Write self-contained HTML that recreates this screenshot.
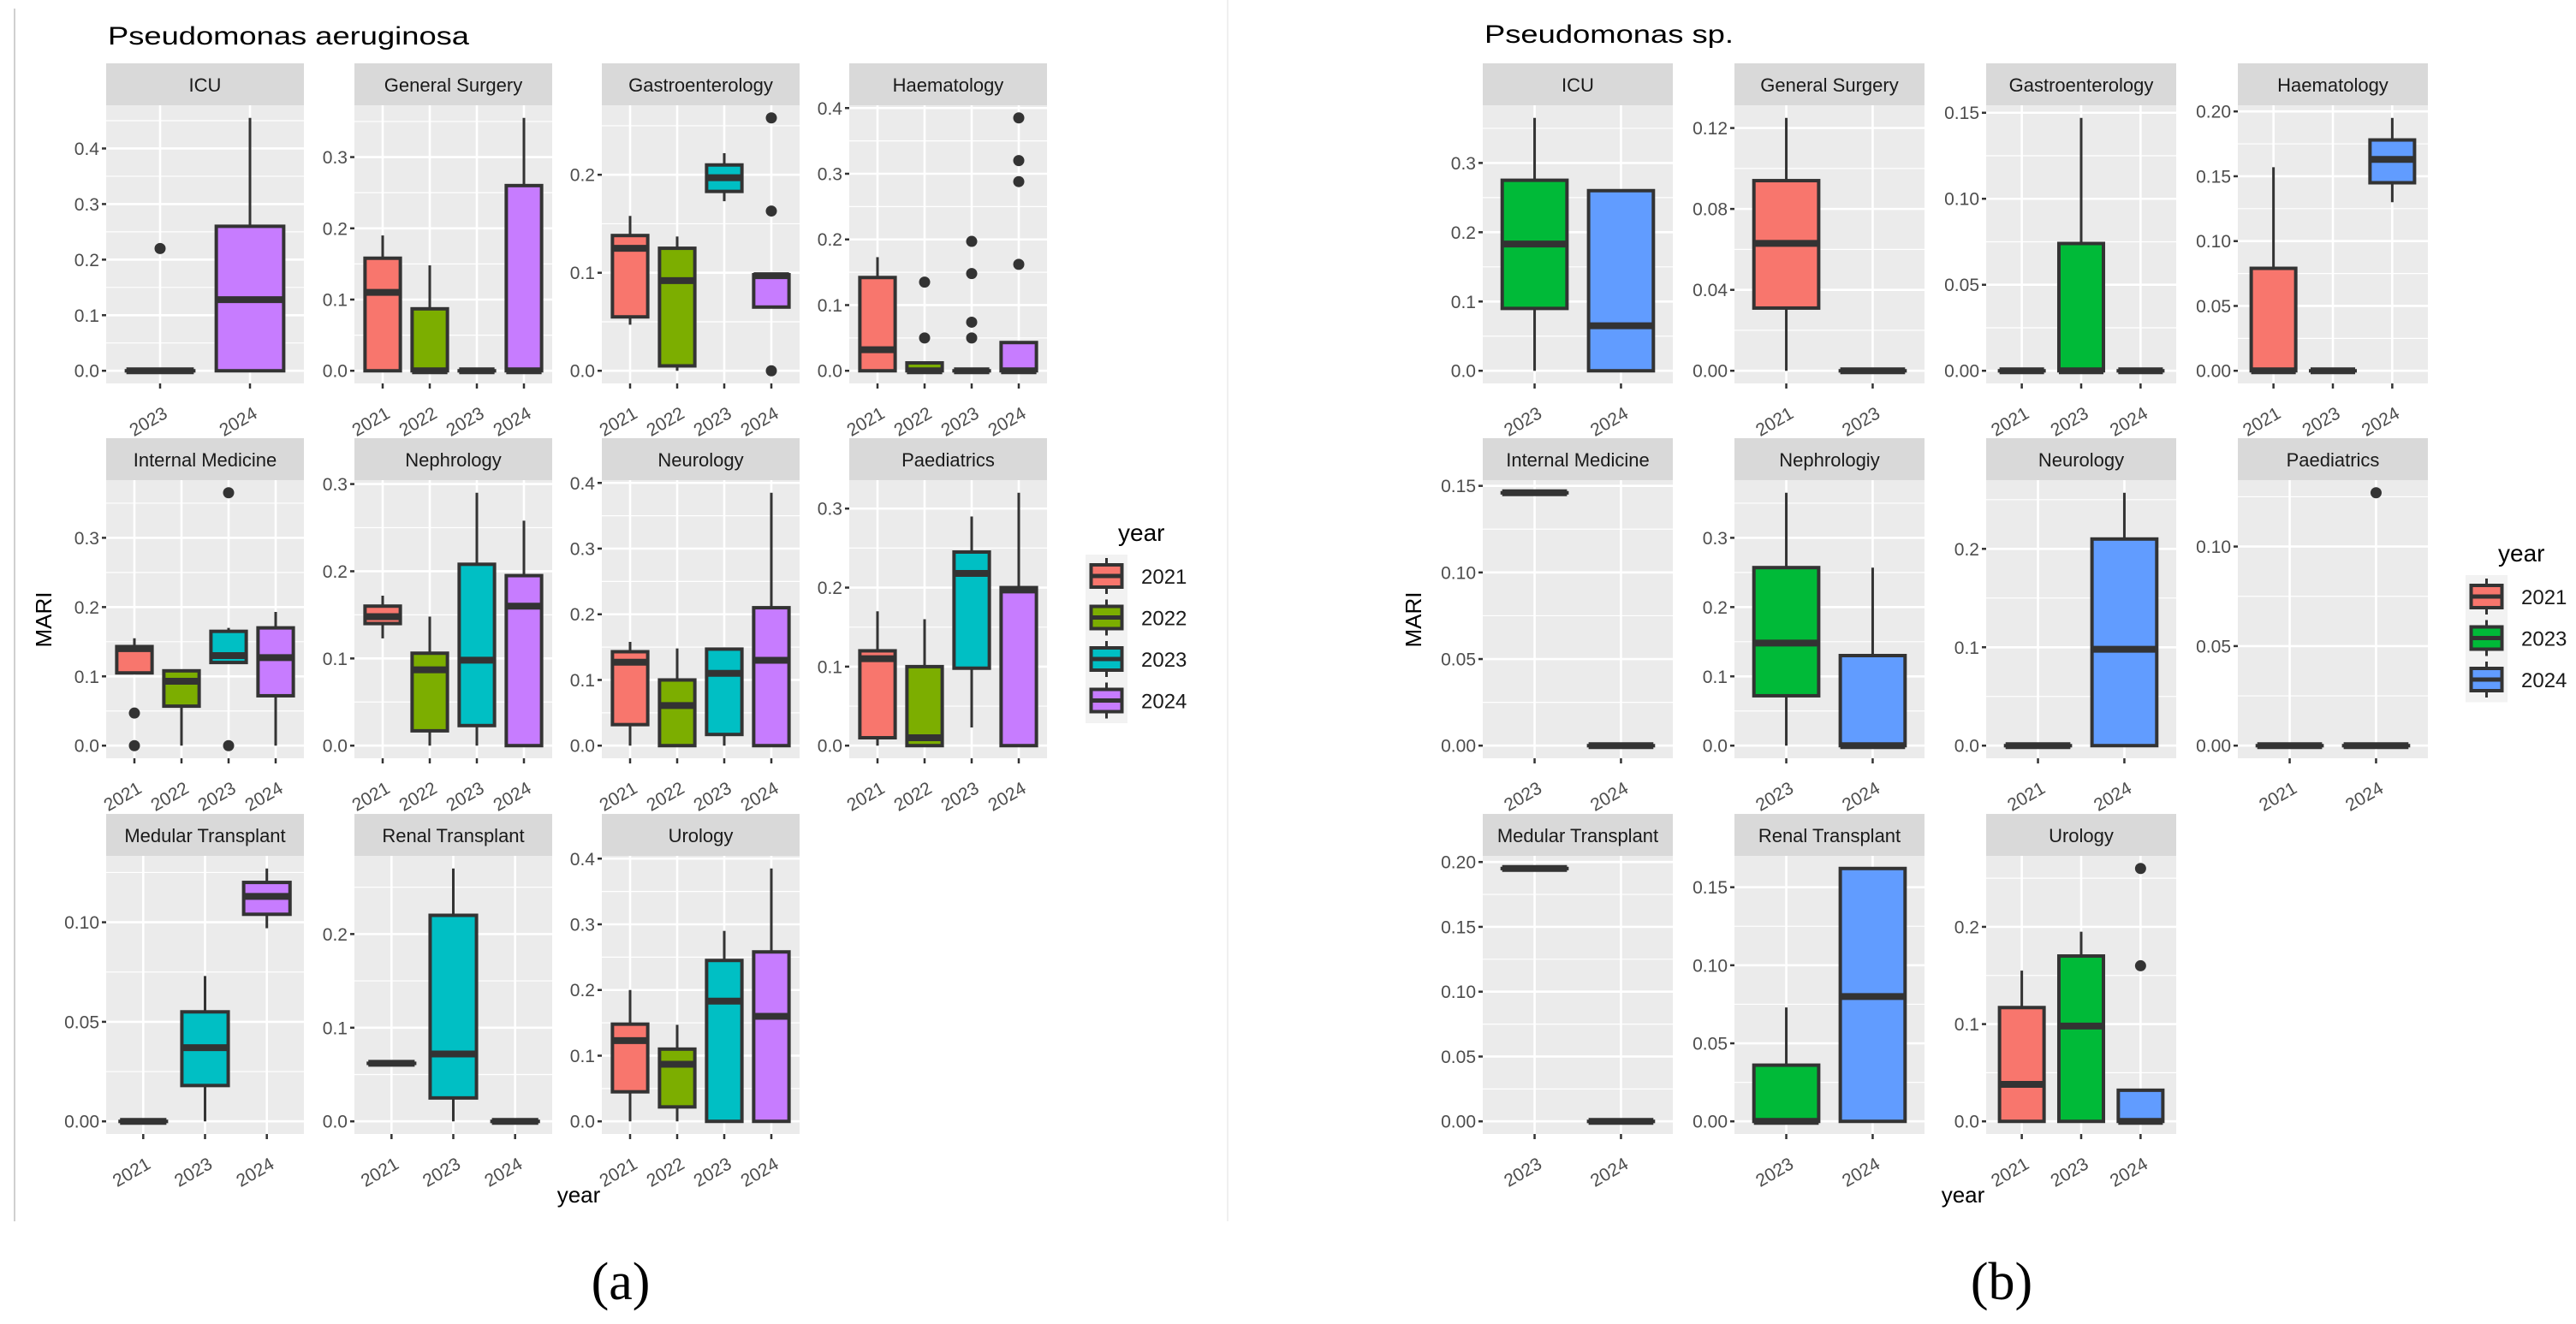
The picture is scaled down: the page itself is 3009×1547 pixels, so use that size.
<!DOCTYPE html>
<html><head><meta charset="utf-8"><title>MARI boxplots</title>
<style>
html,body{margin:0;padding:0;background:#fff;}
svg{display:block;font-family:"Liberation Sans",Arial,sans-serif;}
</style></head>
<body>
<svg id="fig" width="3009" height="1547" viewBox="0 0 3009 1547" xmlns="http://www.w3.org/2000/svg">
<rect x="0" y="0" width="3009" height="1547" fill="#fff"/>
<line x1="17" y1="10" x2="17" y2="1427" stroke="#d0d0d0" stroke-width="2"/>
<line x1="1434" y1="0" x2="1434" y2="1427" stroke="#f0f0f0" stroke-width="2"/>
<text x="126" y="52" font-size="30" textLength="422" lengthAdjust="spacingAndGlyphs" fill="#000">Pseudomonas aeruginosa</text>
<text x="1734" y="50" font-size="30" textLength="291" lengthAdjust="spacingAndGlyphs" fill="#000">Pseudomonas sp.</text>
<text x="725" y="1518" font-size="62" text-anchor="middle" font-family="Liberation Serif, serif">(a)</text>
<text x="2338" y="1518" font-size="62" text-anchor="middle" font-family="Liberation Serif, serif">(b)</text>
<g id="plots"></g>
</svg>
<script>
// ---------- Data: Pseudomonas aeruginosa (a) ----------
const panelsA = ["ICU","General Surgery","Gastroenterology","Haematology","Internal Medicine","Nephrology","Neurology","Paediatrics","Medular Transplant","Renal Transplant","Urology"];
const yearsA = [[2023,2024],[2021,2022,2023,2024],[2021,2022,2023,2024],[2021,2022,2023,2024],[2021,2022,2023,2024],[2021,2022,2023,2024],[2021,2022,2023,2024],[2021,2022,2023,2024],[2021,2023,2024],[2021,2023,2024],[2021,2022,2023,2024]];
const statsA = [
 [[0,0,0,0,0],[0,0,0.128,0.26,0.455]],
 [[0,0,0.11,0.158,0.19],[0,0,0,0.087,0.148],[0,0,0,0,0],[0,0,0,0.26,0.355]],
 [[0.047,0.055,0.125,0.138,0.158],[0,0.005,0.092,0.125,0.137],[0.173,0.183,0.197,0.21,0.222],[0.065,0.065,0.097,0.098,0.098]],
 [[0,0,0.032,0.142,0.173],[0,0,0,0.012,0.012],[0,0,0,0,0],[0,0,0,0.043,0.043]],
 [[0.105,0.105,0.14,0.143,0.155],[0,0.057,0.093,0.108,0.11],[0.12,0.12,0.13,0.165,0.17],[0,0.072,0.127,0.17,0.193]],
 [[0.123,0.14,0.148,0.16,0.172],[0,0.017,0.087,0.106,0.148],[0,0.023,0.098,0.208,0.29],[0,0,0.16,0.195,0.258]],
 [[0,0.032,0.127,0.143,0.158],[0,0,0.061,0.1,0.148],[0,0.017,0.11,0.147,0.147],[0,0,0.13,0.21,0.385]],
 [[0,0.01,0.11,0.12,0.17],[0,0,0.01,0.1,0.16],[0.023,0.098,0.218,0.245,0.29],[0,0,0.197,0.2,0.32]],
 [[0,0,0,0,0],[0,0.018,0.037,0.055,0.073],[0.097,0.104,0.113,0.12,0.127]],
 [[0.062,0.062,0.062,0.062,0.062],[0,0.025,0.072,0.22,0.27],[0,0,0,0,0]],
 [[0,0.045,0.123,0.148,0.2],[0,0.022,0.087,0.11,0.147],[0,0,0.183,0.245,0.29],[0,0,0.16,0.258,0.385]]
];
const outliersA = [
 [[0.22],[]],
 [[],[],[],[]],
 [[],[],[],[0.258,0.163,0]],
 [[],[0.135,0.05],[0.197,0.148,0.074,0.05],[0.385,0.32,0.288,0.162]],
 [[0.047,0],[],[0.365,0],[]],
 [[],[],[],[]],
 [[],[],[],[]],
 [[],[],[],[]],
 [[],[],[]],
 [[],[],[]],
 [[],[],[],[]]
];
const ticksA = [[0,0.1,0.2,0.3,0.4],[0,0.1,0.2,0.3],[0,0.1,0.2],[0,0.1,0.2,0.3,0.4],[0,0.1,0.2,0.3],[0,0.1,0.2,0.3],[0,0.1,0.2,0.3,0.4],[0,0.1,0.2,0.3],[0,0.05,0.1],[0,0.1,0.2],[0,0.1,0.2,0.3,0.4]];
const tickLabelsA = [["0.0","0.1","0.2","0.3","0.4"],["0.0","0.1","0.2","0.3"],["0.0","0.1","0.2"],["0.0","0.1","0.2","0.3","0.4"],["0.0","0.1","0.2","0.3"],["0.0","0.1","0.2","0.3"],["0.0","0.1","0.2","0.3","0.4"],["0.0","0.1","0.2","0.3"],["0.00","0.05","0.10"],["0.0","0.1","0.2"],["0.0","0.1","0.2","0.3","0.4"]];
const legendYearsA = [2021,2022,2023,2024];
const colorsA = ["#F8766D","#7CAE00","#00BFC4","#C77CFF"];

// ---------- Data: Pseudomonas sp. (b) ----------
const panelsB = ["ICU","General Surgery","Gastroenterology","Haematology","Internal Medicine","Nephrologiy","Neurology","Paediatrics","Medular Transplant","Renal Transplant","Urology"];
const yearsB = [[2023,2024],[2021,2023],[2021,2023,2024],[2021,2023,2024],[2023,2024],[2023,2024],[2021,2024],[2021,2024],[2023,2024],[2023,2024],[2021,2023,2024]];
const statsB = [
 [[0,0.09,0.183,0.275,0.365],[0,0,0.065,0.26,0.26]],
 [[0,0.031,0.063,0.094,0.125],[0,0,0,0,0]],
 [[0,0,0,0,0],[0,0,0,0.074,0.147],[0,0,0,0,0]],
 [[0,0,0,0.079,0.157],[0,0,0,0,0],[0.13,0.145,0.163,0.178,0.195]],
 [[0.146,0.146,0.146,0.146,0.146],[0,0,0,0,0]],
 [[0,0.072,0.148,0.257,0.365],[0,0,0,0.13,0.257]],
 [[0,0,0,0,0],[0,0,0.098,0.21,0.257]],
 [[0,0,0,0,0],[0,0,0,0,0]],
 [[0.195,0.195,0.195,0.195,0.195],[0,0,0,0,0]],
 [[0,0,0,0.036,0.073],[0,0,0.08,0.162,0.162]],
 [[0,0,0.038,0.117,0.155],[0,0,0.098,0.17,0.195],[0,0,0,0.032,0.032]]
];
const outliersB = [
 [[],[]],[[],[]],[[],[],[]],[[],[],[]],[[],[]],[[],[]],[[],[]],[[],[0.127]],[[],[]],[[],[]],[[],[],[0.26,0.16]]
];
const ticksB = [[0,0.1,0.2,0.3],[0,0.04,0.08,0.12],[0,0.05,0.1,0.15],[0,0.05,0.1,0.15,0.2],[0,0.05,0.1,0.15],[0,0.1,0.2,0.3],[0,0.1,0.2],[0,0.05,0.1],[0,0.05,0.1,0.15,0.2],[0,0.05,0.1,0.15],[0,0.1,0.2]];
const tickLabelsB = [["0.0","0.1","0.2","0.3"],["0.00","0.04","0.08","0.12"],["0.00","0.05","0.10","0.15"],["0.00","0.05","0.10","0.15","0.20"],["0.00","0.05","0.10","0.15"],["0.0","0.1","0.2","0.3"],["0.0","0.1","0.2"],["0.00","0.05","0.10"],["0.00","0.05","0.10","0.15","0.20"],["0.00","0.05","0.10","0.15"],["0.0","0.1","0.2"]];
const legendYearsB = [2021,2023,2024];
const colorsB = ["#F8766D","#00BA38","#619CFF"];

const NS = "http://www.w3.org/2000/svg";
const root = document.getElementById("plots");
function mk(tag, attrs, parent) {
  const e = document.createElementNS(NS, tag);
  for (const k in attrs) e.setAttribute(k, attrs[k]);
  (parent || root).appendChild(e);
  return e;
}

function drawSide(cfg) {
  const rowTops = [74, 512, 951];
  const stripH = 49, panelH = 325;
  cfg.panels.forEach((name, p) => {
    const col = p % 4, row = Math.floor(p / 4);
    const px = cfg.colLefts[col], pw = cfg.panelW;
    const sy = rowTops[row], py = sy + stripH;
    const g = mk("g", {});
    
    
    // strip
    const strip = mk("rect", {x: px, y: sy, width: pw, height: stripH, fill: "#D9D9D9"}, g);
    
    
    const st = mk("text", {x: px + pw / 2, y: sy + 33, "font-size": 22, "text-anchor": "middle", fill: "#1A1A1A"}, g);
    st.textContent = name;
    
    
    // panel bg
    const bg = mk("rect", {x: px, y: py, width: pw, height: panelH, fill: "#EBEBEB"}, g);
    
    
    // y scale
    const stats = cfg.stats[p], outl = cfg.outliers[p];
    let lo = Infinity, hi = -Infinity;
    stats.forEach(s => s.forEach(v => { lo = Math.min(lo, v); hi = Math.max(hi, v); }));
    outl.forEach(o => o.forEach(v => { lo = Math.min(lo, v); hi = Math.max(hi, v); }));
    let r = hi - lo; if (r === 0) r = 0.01;
    const dLo = lo - 0.05 * r, dHi = hi + 0.05 * r;
    const yS = v => py + panelH - (v - dLo) / (dHi - dLo) * panelH;
    const ticks = cfg.ticks[p], tl = cfg.tickLabels[p];
    const step = ticks[1] - ticks[0];
    // minor grid
    const minors = [];
    for (let i = -1; i < ticks.length; i++) minors.push(ticks[0] + step * (i + 0.5));
    minors.forEach(m => {
      if (m < dLo || m > dHi) return;
      const ln = mk("line", {x1: px, x2: px + pw, y1: yS(m), y2: yS(m), stroke: "#fff", "stroke-width": 1.2}, g);
      
      
    });
    ticks.forEach((t, i) => {
      const y = yS(t);
      const ln = mk("line", {x1: px, x2: px + pw, y1: y, y2: y, stroke: "#fff", "stroke-width": 2.6}, g);
      
      
      const tk = mk("line", {x1: px - 5, x2: px, y1: y, y2: y, stroke: "#333", "stroke-width": 2.5}, g);
      
      
      const tx = mk("text", {x: px - 8, y: y + 7.5, "font-size": 21, "text-anchor": "end", fill: "#4D4D4D"}, g);
      tx.textContent = tl[i];
      
      
    });
    // x scale
    const yrs = cfg.years[p], n = yrs.length;
    const unit = pw / (n + 0.2);
    const xS = i => px + (i + 0.6) * unit;
    yrs.forEach((yr, i) => {
      const x = xS(i);
      const vl = mk("line", {x1: x, x2: x, y1: py, y2: py + panelH, stroke: "#fff", "stroke-width": 2.6}, g);
      
      
      const tk = mk("line", {x1: x, x2: x, y1: py + panelH, y2: py + panelH + 6, stroke: "#333", "stroke-width": 2.5}, g);
      
      
      const ax = x + 10, ay = py + panelH + 39;
      const tx = mk("text", {x: ax, y: ay, "font-size": 21, "text-anchor": "end", fill: "#4D4D4D", transform: "rotate(-30 " + ax + " " + ay + ")"}, g);
      tx.textContent = String(yr);
      
      
    });
    // boxes
    const bw = unit * 0.75;
    stats.forEach((s, i) => {
      const x = xS(i);
      const fill = cfg.colors[cfg.legendYears.indexOf(yrs[i])];
      const bg2 = mk("g", {}, g);
      
      
      mk("line", {x1: x, x2: x, y1: yS(s[3]), y2: yS(s[4]), stroke: "#333", "stroke-width": 3}, bg2);
      mk("line", {x1: x, x2: x, y1: yS(s[0]), y2: yS(s[1]), stroke: "#333", "stroke-width": 3}, bg2);
      const top = yS(s[3]), bot = yS(s[1]);
      mk("rect", {x: x - bw / 2, y: top, width: bw, height: Math.max(bot - top, 0.1), fill: fill, stroke: "#333", "stroke-width": 4}, bg2);
      mk("line", {x1: x - bw / 2, x2: x + bw / 2, y1: yS(s[2]), y2: yS(s[2]), stroke: "#333", "stroke-width": 8}, bg2);
      outl[i].forEach(v => {
        const c = mk("circle", {cx: x, cy: yS(v), r: 6.5, fill: "#333"}, bg2);
        
        
      });
    });
  });
  // axis titles
  const yt = mk("text", {x: cfg.mariX, y: 724, "font-size": 26, "text-anchor": "middle", fill: "#000", transform: "rotate(-90 " + cfg.mariX + " 724)"});
  yt.textContent = "MARI";
  
  
  const xt = mk("text", {x: cfg.yearX, y: 1405, "font-size": 26, "text-anchor": "middle", fill: "#000"});
  xt.textContent = "year";
  
  
  // legend
  const lg = mk("g", {});
  
  
  const lt = mk("text", {x: cfg.legX + 38, y: cfg.legY - 16, "font-size": 28, fill: "#000"}, lg);
  lt.textContent = "year";
  
  
  mk("rect", {x: cfg.legX, y: cfg.legY, width: 49, height: 48.5 * cfg.legendYears.length + 3, fill: "#F2F2F2"}, lg);
  cfg.legendYears.forEach((yr, i) => {
    const cy = cfg.legY + 25 + i * 48.5, cx = cfg.legX + 24.5;
    const e = mk("g", {}, lg);
    
    
    mk("line", {x1: cx, x2: cx, y1: cy - 21, y2: cy + 21, stroke: "#333", "stroke-width": 3}, e);
    mk("rect", {x: cx - 18, y: cy - 13, width: 36, height: 26, fill: cfg.colors[i], stroke: "#333", "stroke-width": 4}, e);
    mk("line", {x1: cx - 18, x2: cx + 18, y1: cy, y2: cy, stroke: "#333", "stroke-width": 5}, e);
    const t = mk("text", {x: cfg.legX + 65, y: cy + 9, "font-size": 24, fill: "#1A1A1A"}, e);
    t.textContent = String(yr);
  });
}

drawSide({id: "a", panels: panelsA, years: yearsA, stats: statsA, outliers: outliersA, ticks: ticksA, tickLabels: tickLabelsA,
  legendYears: legendYearsA, colors: colorsA, colLefts: [124, 414, 703, 992], panelW: 231, mariX: 60, yearX: 676, legX: 1268, legY: 648});
drawSide({id: "b", panels: panelsB, years: yearsB, stats: statsB, outliers: outliersB, ticks: ticksB, tickLabels: tickLabelsB,
  legendYears: legendYearsB, colors: colorsB, colLefts: [1732, 2026, 2320, 2614], panelW: 222, mariX: 1660, yearX: 2293, legX: 2880, legY: 672});
</script>
</body></html>
